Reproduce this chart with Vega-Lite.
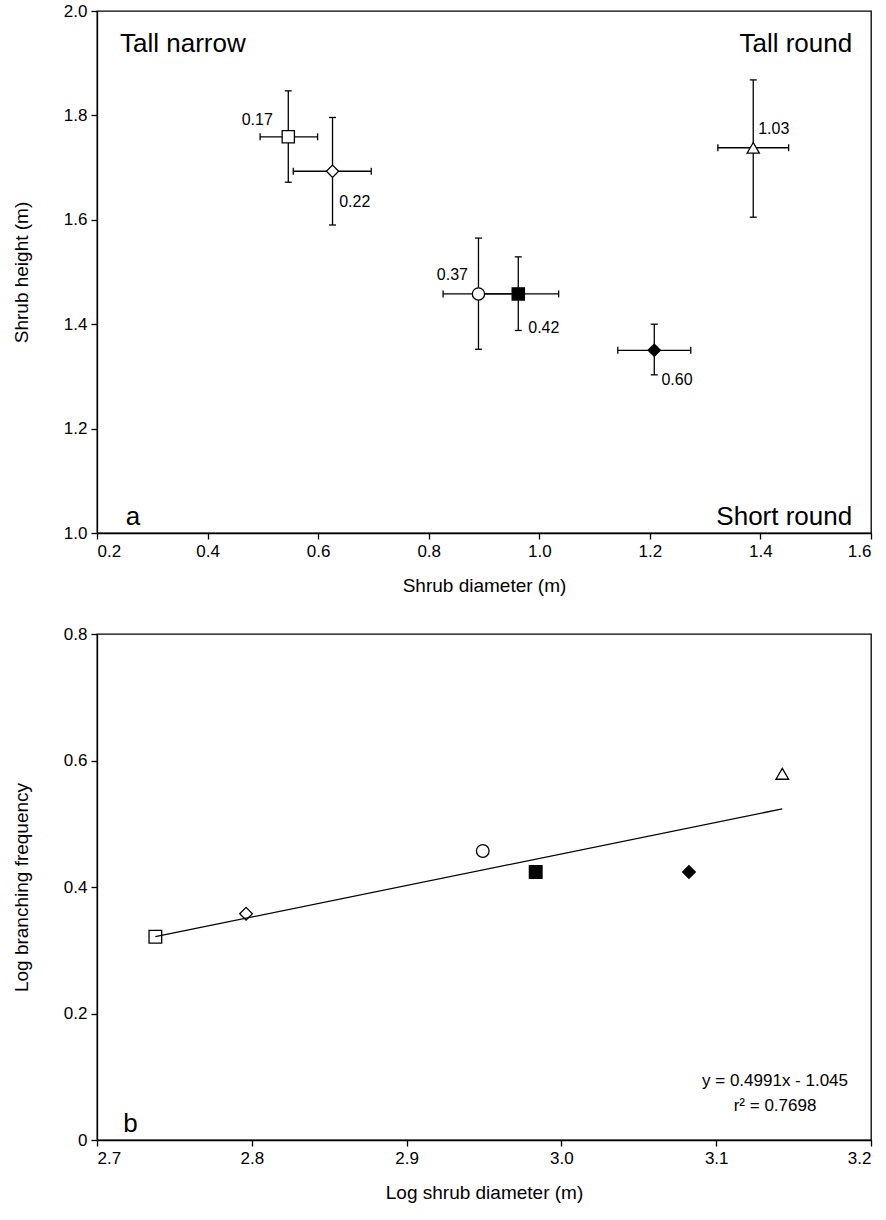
{
  "$schema": "https://vega.github.io/schema/vega-lite/v6.json",
  "padding": {"left": 11, "top": 1, "right": 6, "bottom": 10},
  "background": "white",
  "spacing": 101,
  "bounds": "flush",
  "config": {
    "font": "Liberation Sans",
    "view": {"stroke": "black", "strokeWidth": 1.3},
    "axis": {
      "grid": false, "domainColor": "black", "domainWidth": 1.3, "tickColor": "black", "tickWidth": 1.3, "tickSize": 6,
      "labelColor": "black", "titleColor": "black", "labelFont": "Liberation Sans", "titleFont": "Liberation Sans",
      "labelFontSize": 17, "titleFontSize": 19, "titleFontWeight": "normal", "labelPadding": 4
    },
    "axisX": {"titlePadding": 17},
    "axisY": {"titlePadding": 32}
  },
  "datasets": {
    "a": [
      {"g": "open square", "d": 0.546, "dlo": 0.495, "dhi": 0.599, "h": 1.759, "hlo": 1.672, "hhi": 1.847},
      {"g": "open diamond", "d": 0.626, "dlo": 0.555, "dhi": 0.696, "h": 1.693, "hlo": 1.590, "hhi": 1.796},
      {"g": "open circle", "d": 0.890, "dlo": 0.826, "dhi": 0.954, "h": 1.458, "hlo": 1.352, "hhi": 1.565},
      {"g": "filled square", "d": 0.962, "dlo": 0.889, "dhi": 1.035, "h": 1.458, "hlo": 1.388, "hhi": 1.529},
      {"g": "filled diamond", "d": 1.208, "dlo": 1.142, "dhi": 1.274, "h": 1.350, "hlo": 1.303, "hhi": 1.400},
      {"g": "open triangle", "d": 1.387, "dlo": 1.323, "dhi": 1.451, "h": 1.738, "hlo": 1.605, "hhi": 1.868}
    ],
    "alabR": [
      {"t": "0.17", "x": 0.518, "y": 1.791},
      {"t": "0.37", "x": 0.871, "y": 1.494}
    ],
    "alabL": [
      {"t": "0.22", "x": 0.638, "y": 1.634},
      {"t": "0.42", "x": 0.980, "y": 1.392},
      {"t": "0.60", "x": 1.221, "y": 1.294},
      {"t": "1.03", "x": 1.396, "y": 1.773}
    ],
    "acornL": [
      {"t": "Tall narrow", "x": 0.2416, "y": 1.936},
      {"t": "a", "x": 0.252, "y": 1.03}
    ],
    "acornR": [
      {"t": "Tall round", "x": 1.566, "y": 1.936},
      {"t": "Short round", "x": 1.566, "y": 1.03}
    ],
    "b": [
      {"g": "open square", "ld": 2.7377, "lb": 0.3214},
      {"g": "open diamond", "ld": 2.7963, "lb": 0.3578},
      {"g": "open circle", "ld": 2.9492, "lb": 0.4569},
      {"g": "filled square", "ld": 2.9834, "lb": 0.4237},
      {"g": "filled diamond", "ld": 3.0824, "lb": 0.4237},
      {"g": "open triangle", "ld": 3.1427, "lb": 0.579}
    ],
    "fit": [
      {"x1": 2.7377, "y1": 0.3214, "x2": 3.1427, "y2": 0.5235}
    ],
    "bletter": [
      {"t": "b", "x": 2.717, "y": 0.025}
    ],
    "beq": [
      {"t": "y = 0.4991x - 1.045", "x": 3.138, "y": 0.0935},
      {"t": "r² = 0.7698", "x": 3.138, "y": 0.054}
    ]
  },
  "vconcat": [
    {
      "width": 774,
      "height": 522,
      "layer": [
        {
          "data": {"name": "a"},
          "mark": {"type": "rule", "color": "black", "strokeWidth": 1.3},
          "encoding": {
            "x": {"field": "dlo", "type": "quantitative", "scale": {"domain": [0.2, 1.6], "nice": false, "zero": false}, "axis": {"values": [0.2, 0.4, 0.6, 0.8, 1.0, 1.2, 1.4, 1.6], "format": ".1f"}, "title": "Shrub diameter (m)"},
            "x2": {"field": "dhi"},
            "y": {"field": "h", "type": "quantitative", "scale": {"domain": [1, 2], "nice": false, "zero": false}, "axis": {"values": [1.0, 1.2, 1.4, 1.6, 1.8, 2.0], "format": ".1f"}, "title": "Shrub height (m)"}
          }
        },
        {
          "data": {"name": "a"},
          "mark": {"type": "rule", "color": "black", "strokeWidth": 1.3},
          "encoding": {
            "x": {"field": "d", "type": "quantitative", "title": "Shrub diameter (m)"},
            "y": {"field": "hlo", "type": "quantitative", "title": "Shrub height (m)"},
            "y2": {"field": "hhi"}
          }
        },
        {
          "data": {"name": "a"},
          "mark": {"type": "tick", "orient": "vertical", "size": 7, "thickness": 1.3, "color": "black", "opacity": 1},
          "encoding": {
            "x": {"field": "dlo", "type": "quantitative", "title": "Shrub diameter (m)"},
            "y": {"field": "h", "type": "quantitative", "title": "Shrub height (m)"}
          }
        },
        {
          "data": {"name": "a"},
          "mark": {"type": "tick", "orient": "vertical", "size": 7, "thickness": 1.3, "color": "black", "opacity": 1},
          "encoding": {
            "x": {"field": "dhi", "type": "quantitative", "title": "Shrub diameter (m)"},
            "y": {"field": "h", "type": "quantitative", "title": "Shrub height (m)"}
          }
        },
        {
          "data": {"name": "a"},
          "mark": {"type": "tick", "orient": "horizontal", "size": 7, "thickness": 1.3, "color": "black", "opacity": 1},
          "encoding": {
            "x": {"field": "d", "type": "quantitative", "title": "Shrub diameter (m)"},
            "y": {"field": "hlo", "type": "quantitative", "title": "Shrub height (m)"}
          }
        },
        {
          "data": {"name": "a"},
          "mark": {"type": "tick", "orient": "horizontal", "size": 7, "thickness": 1.3, "color": "black", "opacity": 1},
          "encoding": {
            "x": {"field": "d", "type": "quantitative", "title": "Shrub diameter (m)"},
            "y": {"field": "hhi", "type": "quantitative", "title": "Shrub height (m)"}
          }
        },
        {
          "data": {"name": "a"},
          "mark": {"type": "point", "stroke": "black", "strokeWidth": 1.3, "opacity": 1, "filled": false, "size": 150},
          "encoding": {
            "x": {"field": "d", "type": "quantitative", "title": "Shrub diameter (m)"},
            "y": {"field": "h", "type": "quantitative", "title": "Shrub height (m)"},
            "shape": {"field": "g", "type": "nominal", "legend": null, "scale": {"domain": ["open square", "open diamond", "open circle", "filled square", "filled diamond", "open triangle"], "range": ["square", "diamond", "circle", "square", "diamond", "triangle-up"]}},
            "fill": {"field": "g", "type": "nominal", "legend": null, "scale": {"domain": ["open square", "open diamond", "open circle", "filled square", "filled diamond", "open triangle"], "range": ["white", "white", "white", "black", "black", "white"]}}
          }
        },
        {
          "data": {"name": "alabR"},
          "mark": {"type": "text", "align": "right", "baseline": "middle", "fontSize": 16, "color": "black"},
          "encoding": {
            "x": {"field": "x", "type": "quantitative", "title": "Shrub diameter (m)"},
            "y": {"field": "y", "type": "quantitative", "title": "Shrub height (m)"},
            "text": {"field": "t"}
          }
        },
        {
          "data": {"name": "alabL"},
          "mark": {"type": "text", "align": "left", "baseline": "middle", "fontSize": 16, "color": "black"},
          "encoding": {
            "x": {"field": "x", "type": "quantitative", "title": "Shrub diameter (m)"},
            "y": {"field": "y", "type": "quantitative", "title": "Shrub height (m)"},
            "text": {"field": "t"}
          }
        },
        {
          "data": {"name": "acornL"},
          "mark": {"type": "text", "align": "left", "baseline": "middle", "fontSize": 26, "color": "black"},
          "encoding": {
            "x": {"field": "x", "type": "quantitative", "title": "Shrub diameter (m)"},
            "y": {"field": "y", "type": "quantitative", "title": "Shrub height (m)"},
            "text": {"field": "t"}
          }
        },
        {
          "data": {"name": "acornR"},
          "mark": {"type": "text", "align": "right", "baseline": "middle", "fontSize": 26, "color": "black"},
          "encoding": {
            "x": {"field": "x", "type": "quantitative", "title": "Shrub diameter (m)"},
            "y": {"field": "y", "type": "quantitative", "title": "Shrub height (m)"},
            "text": {"field": "t"}
          }
        }
      ]
    },
    {
      "width": 774,
      "height": 506,
      "layer": [
        {
          "data": {"name": "b"},
          "mark": {"type": "point", "stroke": "black", "strokeWidth": 1.3, "opacity": 1, "filled": false, "size": 160},
          "encoding": {
            "x": {"field": "ld", "type": "quantitative", "scale": {"domain": [2.7, 3.2], "nice": false, "zero": false}, "axis": {"values": [2.7, 2.8, 2.9, 3.0, 3.1, 3.2], "format": ".1f"}, "title": "Log shrub diameter (m)"},
            "y": {"field": "lb", "type": "quantitative", "scale": {"domain": [0, 0.8], "nice": false, "zero": false}, "axis": {"values": [0, 0.2, 0.4, 0.6, 0.8], "labelExpr": "datum.value == 0 ? '0' : format(datum.value, '.1f')"}, "title": "Log branching frequency"},
            "shape": {"field": "g", "type": "nominal", "legend": null, "scale": {"domain": ["open square", "open diamond", "open circle", "filled square", "filled diamond", "open triangle"], "range": ["square", "diamond", "circle", "square", "diamond", "triangle-up"]}},
            "fill": {"field": "g", "type": "nominal", "legend": null, "scale": {"domain": ["open square", "open diamond", "open circle", "filled square", "filled diamond", "open triangle"], "range": ["white", "white", "white", "black", "black", "white"]}}
          }
        },
        {
          "data": {"name": "fit"},
          "mark": {"type": "rule", "color": "black", "strokeWidth": 1.3},
          "encoding": {
            "x": {"field": "x1", "type": "quantitative", "title": "Log shrub diameter (m)"},
            "y": {"field": "y1", "type": "quantitative", "title": "Log branching frequency"},
            "x2": {"field": "x2"},
            "y2": {"field": "y2"}
          }
        },
        {
          "data": {"name": "bletter"},
          "mark": {"type": "text", "align": "left", "baseline": "middle", "fontSize": 26, "color": "black"},
          "encoding": {
            "x": {"field": "x", "type": "quantitative", "title": "Log shrub diameter (m)"},
            "y": {"field": "y", "type": "quantitative", "title": "Log branching frequency"},
            "text": {"field": "t"}
          }
        },
        {
          "data": {"name": "beq"},
          "mark": {"type": "text", "align": "center", "baseline": "middle", "fontSize": 17, "color": "black"},
          "encoding": {
            "x": {"field": "x", "type": "quantitative", "title": "Log shrub diameter (m)"},
            "y": {"field": "y", "type": "quantitative", "title": "Log branching frequency"},
            "text": {"field": "t"}
          }
        }
      ]
    }
  ]
}
